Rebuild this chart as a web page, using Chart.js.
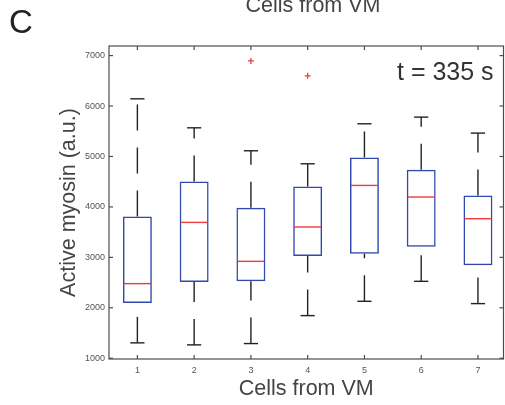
<!DOCTYPE html>
<html>
<head>
<meta charset="utf-8">
<title>Cells from VM</title>
<script src="https://cdn.jsdelivr.net/npm/chart.js@4.4.1/dist/chart.umd.min.js"></script>
<style>
  html, body { margin: 0; padding: 0; background: #fff; }
  #wrap {
    position: relative; width: 505px; height: 405px; overflow: hidden;
    font-family: "Liberation Sans", Arial, Helvetica, sans-serif;
  }
  #chart { position: absolute; left: 0; top: 0; }
  .lbl { position: absolute; line-height: 1; white-space: nowrap; color: #444; }
  #panel { left: 9px; top: 4.7px; font-size: 33px; color: #222; }
  #title { left: 313px; top: -4.9px; font-size: 21.5px; transform: translateX(-50%); }
  #time  { left: 397px; top: 58.8px; font-size: 25px; color: #333; }
</style>
</head>
<body>
<div id="wrap">
  <canvas id="chart" width="505" height="405"></canvas>
  <div class="lbl" id="panel">C</div>
  <div class="lbl" id="title">Cells from VM</div>
  <div class="lbl" id="time">t = 335 s</div>
</div>
<script>
'use strict';

// ── Datos ─────────────────────────
const CELLS   = [1, 2, 3, 4, 5, 6, 7];
const LOWER   = [1305, 1265, 1291, 1845, 2129, 2525, 2083];   // bigote inferior
const Q1      = [2097, 2513, 2525, 3028, 3073, 3212, 2842];
const MEDIAN  = [2479, 3693, 2921, 3602, 4426, 4196, 3766];
const Q3      = [3812, 4505, 3984, 4406, 4980, 4737, 4228];
const UPPER   = [6143, 5568, 5113, 4855, 5648, 5780, 5463];   // bigote superior
const OUT_X   = [3, 4];
const OUT_Y   = [6895, 6598];
const Y_TICKS = [1000, 2000, 3000, 4000, 5000, 6000, 7000];

// ── Estilo tipo MATLAB ─────
const BLUE   = '#3149ad';
const RED    = '#ee3b3b';
const BLACK  = '#222';
const FRAME  = '#4d4d4d';
const FONT   = "'Liberation Sans', Arial, Helvetica, sans-serif";
const CAP_HALF = 0.125;   // media anchura del remate (unidades x)
const TICK_LEN = 4;

function line(ctx, x1, y1, x2, y2) {
  ctx.beginPath();
  ctx.moveTo(x1, y1);
  ctx.lineTo(x2, y2);
  ctx.stroke();
}

// bigotes discontinuos, remates y medianas
const boxExtras = {
  id: 'boxExtras',
  afterDatasetsDraw(chart) {
    const { ctx, scales: { x, y } } = chart;
    const bars = chart.getDatasetMeta(0).data;
    ctx.save();
    ctx.lineWidth = 1.4;
    CELLS.forEach((c, i) => {
      const cx = x.getPixelForValue(c);
      const l = x.getPixelForValue(c - CAP_HALF);
      const r = x.getPixelForValue(c + CAP_HALF);

      ctx.strokeStyle = BLACK;
      ctx.setLineDash([26, 17]);
      line(ctx, cx, y.getPixelForValue(LOWER[i]), cx, y.getPixelForValue(Q1[i]));
      line(ctx, cx, y.getPixelForValue(Q3[i]), cx, y.getPixelForValue(UPPER[i]));
      ctx.setLineDash([]);
      line(ctx, l, y.getPixelForValue(LOWER[i]), r, y.getPixelForValue(LOWER[i]));
      line(ctx, l, y.getPixelForValue(UPPER[i]), r, y.getPixelForValue(UPPER[i]));

      const half = bars[i].width / 2;
      const ym = y.getPixelForValue(MEDIAN[i]);
      ctx.strokeStyle = RED;
      line(ctx, cx - half + 1, ym, cx + half - 1, ym);
    });
    ctx.restore();
  },
  // marco completo con marcas hacia dentro
  afterDraw(chart) {
    const { ctx, chartArea: a, scales: { x, y } } = chart;
    ctx.save();
    ctx.strokeStyle = FRAME;
    ctx.lineWidth = 1.2;
    ctx.strokeRect(a.left, a.top, a.right - a.left, a.bottom - a.top);
    x.ticks.forEach(t => {
      const px = x.getPixelForValue(t.value);
      line(ctx, px, a.bottom, px, a.bottom - TICK_LEN);
      line(ctx, px, a.top, px, a.top + TICK_LEN);
    });
    y.ticks.forEach(t => {
      const py = y.getPixelForValue(t.value);
      line(ctx, a.left, py, a.left + TICK_LEN, py);
      line(ctx, a.right, py, a.right - TICK_LEN, py);
    });
    ctx.restore();
  }
};

new Chart(document.getElementById('chart'), {
  type: 'bar',
  data: {
    datasets: [{
      label: 'IQR',
      data: CELLS.map((c, i) => ({ x: c, y: [Q1[i], Q3[i]] })),
      backgroundColor: 'rgba(0,0,0,0)',
      borderColor: BLUE,
      borderWidth: 1.5,
      borderSkipped: false,
      barPercentage: 0.51,
      categoryPercentage: 1,
    }, {
      type: 'scatter',
      label: 'Outliers',
      data: OUT_X.map((c, i) => ({ x: c, y: OUT_Y[i] })),
      pointStyle: 'cross',
      radius: 3,
      hoverRadius: 3,
      borderColor: RED,
      borderWidth: 1.3,
    }]
  },
  options: {
    responsive: false,
    animation: false,
    devicePixelRatio: 1,
    layout: { autoPadding: false, padding: { top: 46, right: 1.5, left: 0, bottom: 0 } },
    plugins: {
      legend: { display: false },
      tooltip: { enabled: false },
    },
    scales: {
      x: {
        type: 'linear',
        offset: false,
        min: 0.5,
        max: 7.45,
        grid: { display: false, drawTicks: false },
        border: { display: false },
        afterBuildTicks: (s) => { s.ticks = CELLS.map(v => ({ value: v })); },
        afterFit: (s) => { s.height = 46; s.paddingLeft = 0; s.paddingRight = 0; },
        ticks: { color: '#555', padding: 6, font: { family: FONT, size: 9 }, callback: (v) => String(v) },
        title: {
          display: true,
          text: 'Cells from VM',
          color: '#444',
          padding: { top: 0, bottom: 2.9 },
          font: { family: FONT, size: 21.5 },
        }
      },
      y: {
        min: 985,
        max: 7190,
        grid: { display: false, drawTicks: false },
        border: { display: false },
        afterBuildTicks: (s) => { s.ticks = Y_TICKS.map(v => ({ value: v })); },
        afterFit: (s) => { s.width = 109; s.paddingTop = 0; s.paddingBottom = 0; },
        ticks: { color: '#555', padding: 4, font: { family: FONT, size: 9 }, callback: (v) => String(v) },
        title: {
          display: true,
          text: 'Active myosin (a.u.)',
          color: '#444',
          padding: { top: 56, bottom: 0 },
          font: { family: FONT, size: 21.5 },
        }
      }
    }
  },
  plugins: [boxExtras]
});
</script>
</body>
</html>
